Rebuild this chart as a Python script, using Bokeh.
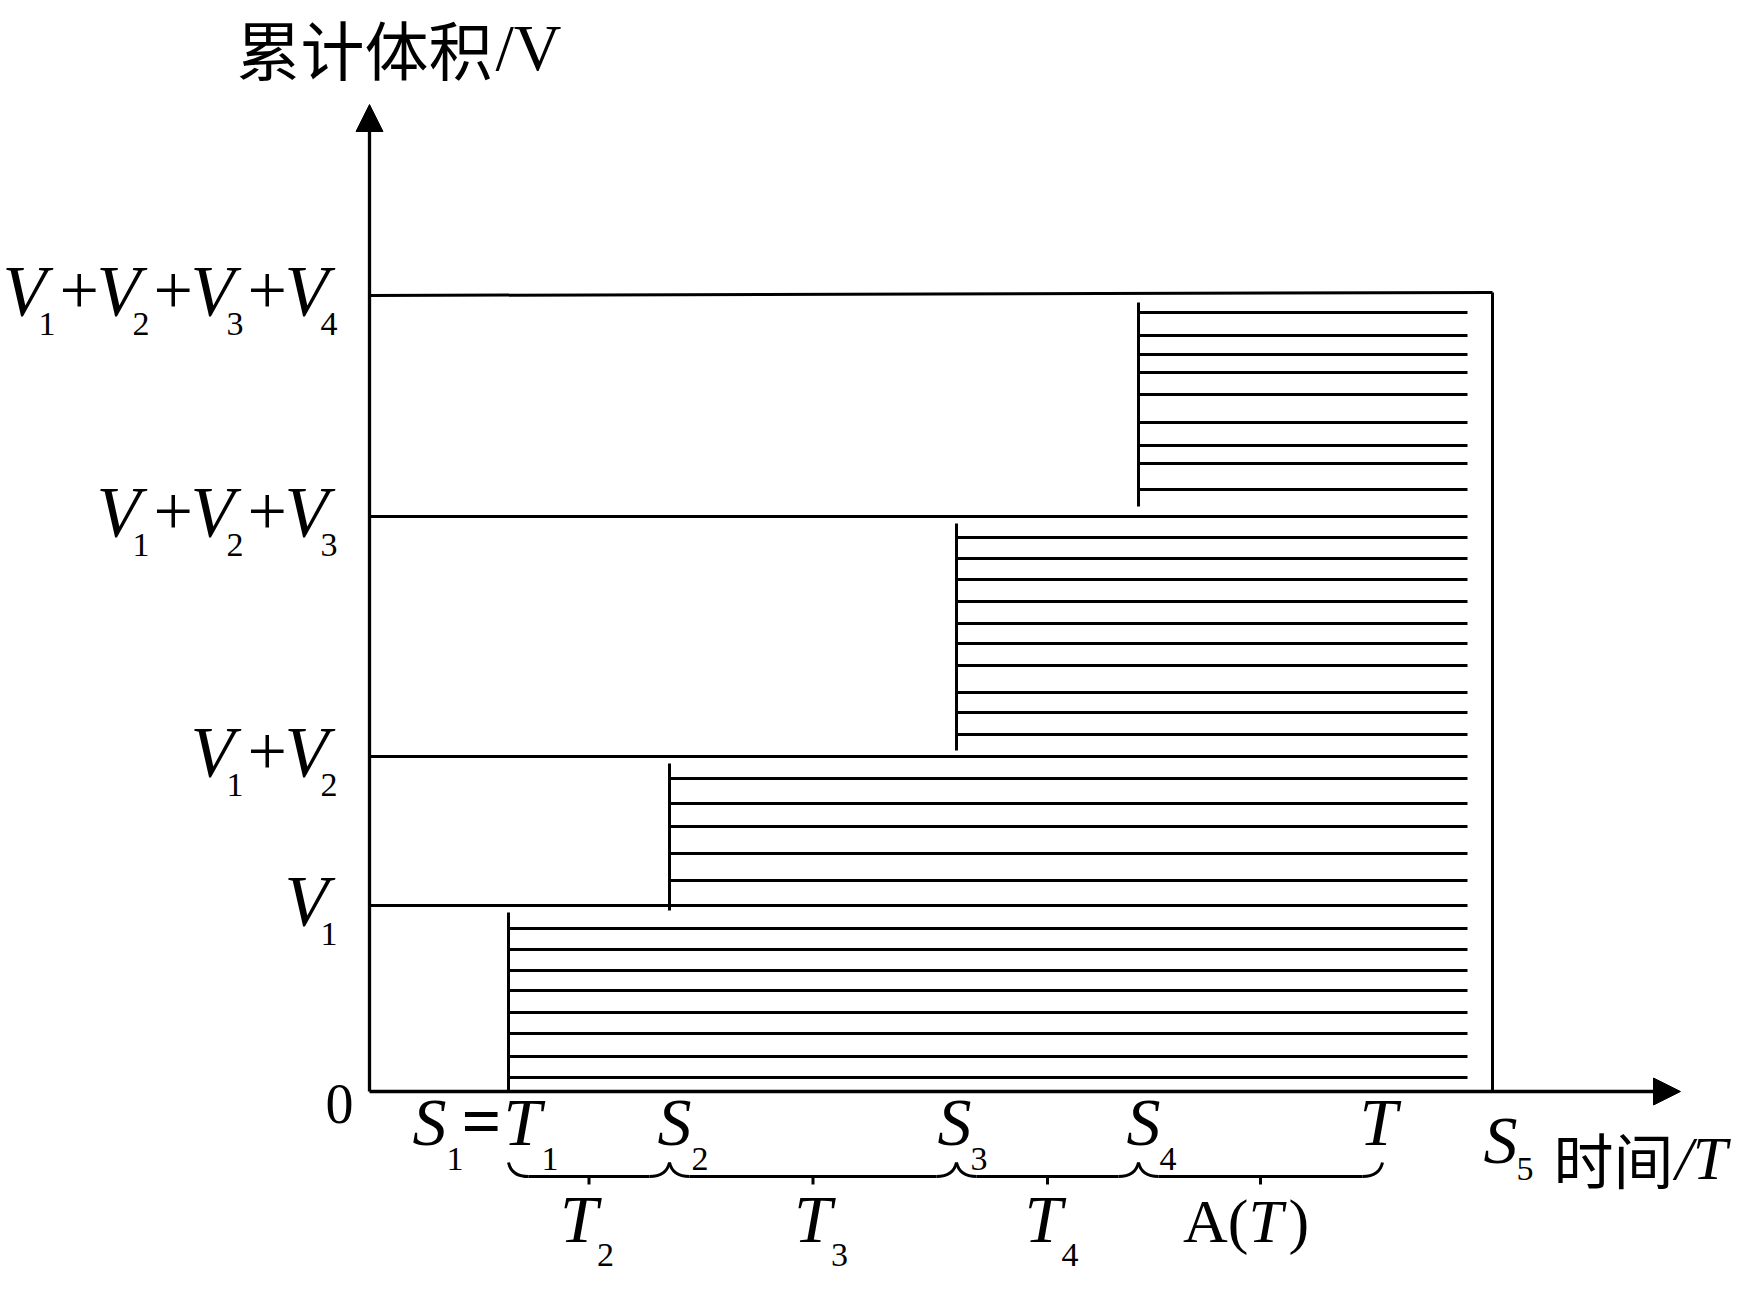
import numpy as np
from bokeh.plotting import figure
from bokeh.models import Range1d, Arrow, NormalHead
from bokeh.core.properties import value
from bokeh.embed import file_html
from bokeh.resources import INLINE

# ---------------- data (arbitrary time / volume units) ----------------
volumes = [18.6, 14.9, 24.0, 22.1]            # V1..V4
cum_volume = list(np.cumsum(volumes))          # V1, V1+V2, V1+V2+V3, V1+..+V4
starts = [13.9, 30.0, 58.7, 76.9, 112.3]       # S1..S5
t_end = 101.3                                  # T
hatch_region1 = [16.3, 14.2, 12.1, 10.1, 7.9, 5.8, 3.5, 1.4]
hatch_region2 = [31.3, 28.8, 26.5, 23.8, 21.1]
hatch_region3 = [55.4, 53.3, 51.2, 49.0, 46.8, 44.8, 42.6, 39.9, 37.9, 35.7]
hatch_region4 = [77.9, 75.6, 73.7, 71.9, 69.7, 66.9, 64.6, 62.8, 60.2]
hatch_right = 109.8
x_axis_end = 131.1
y_axis_end = 98.7
y_title = "累计体积"
x_title = "时间"
brace_labels = [("T", "2"), ("T", "3"), ("T", "4"), ("A(T)", None)]

SERIF = "Liberation Serif"
CJK = "Noto Sans CJK SC"
LW = 3.0

p = figure(width=1732, height=1274, x_range=Range1d(-36.9, 136.3),
           y_range=Range1d(-18.3, 109.1), output_backend="svg",
           toolbar_location=None, min_border=0, x_axis_type=None,
           y_axis_type=None)
p.grid.visible = False
p.outline_line_color = None
p.background_fill_color = "white"
p.border_fill_color = "white"

# ---------------- axes with arrows ----------------
p.add_layout(Arrow(end=NormalHead(size=27, fill_color="black", line_color="black"),
                   x_start=0, y_start=0, x_end=x_axis_end, y_end=0,
                   line_width=3.3, line_color="black"))
p.add_layout(Arrow(end=NormalHead(size=27, fill_color="black", line_color="black"),
                   x_start=0, y_start=0, x_end=0, y_end=y_axis_end,
                   line_width=3.3, line_color="black"))

# ---------------- level lines ----------------
p.segment(x0=[0, 0, 0], y0=cum_volume[:3], x1=[hatch_right] * 3, y1=cum_volume[:3],
          line_width=LW, line_color="black")
p.segment(x0=[0], y0=[cum_volume[3]], x1=[starts[4]], y1=[cum_volume[3] + 0.3],
          line_width=LW, line_color="black")
p.segment(x0=[starts[4]], y0=[0], x1=[starts[4]], y1=[cum_volume[3] + 0.3],
          line_width=LW, line_color="black")

# ---------------- vertical start lines and hatching ----------------
lower = [0] + cum_volume[:3]
p.segment(x0=starts[:4], y0=[lower[0], lower[1] - 0.5, lower[2] + 0.6, lower[3] + 1.0],
          x1=starts[:4], y1=[c - 0.7 for c in cum_volume],
          line_width=LW, line_color="black")
hx0, hy = [], []
for s, region in zip(starts[:4], [hatch_region1, hatch_region2, hatch_region3, hatch_region4]):
    for yv in region:
        hx0.append(s)
        hy.append(yv)
p.segment(x0=hx0, y0=hy, x1=[hatch_right] * len(hy), y1=hy,
          line_width=LW, line_color="black")


def txt(x, y, text, dx, dy, size, style="normal", font=SERIF, align="left"):
    corr = 0.38 if font == CJK else 0.36
    p.text(x=[x], y=[y], text=[text], x_offset=dx, y_offset=dy - corr * size,
           text_font=value(font), text_font_size=f"{size}px",
           text_font_style=style, text_align=align,
           text_baseline="alphabetic", text_color="black")


# ---------------- y labels ----------------
for n, level in enumerate(cum_volume, start=1):
    width = (n - 1) * 94 + 51
    for k in range(n):
        rel = -32 - width + k * 94
        txt(0, level, "V", rel - 2, 21, 72, "italic")
        txt(0, level, str(k + 1), rel + 34, 41, 34)
        if k < n - 1:
            txt(0, level, "+", rel + 55, 21, 70)

txt(0, 0, "0", -30, 33, 56, align="center")

# ---------------- x labels ----------------
s_dx = [-96, -12, -19, -12, -9]
sub_dx = [-62, 22, 14, 21, 24]
s_dy = [55, 55, 55, 55, 73]
sub_dy = [80, 80, 80, 80, 90]
for i, s in enumerate(starts):
    txt(s, 0, "S", s_dx[i], s_dy[i], 68, "italic")
    txt(s, 0, str(i + 1), sub_dx[i], sub_dy[i], 34)
txt(starts[0], 0, "=", -47, 55, 70, "bold")
txt(starts[0], 0, "T", -5, 55, 68, "italic")
txt(starts[0], 0, "1", 33, 80, 34)
txt(t_end, 0, "T", -23, 55, 68, "italic")

# ---------------- braces ----------------
ends = [starts[0], starts[1], starts[2], starts[3], t_end]
by, tip, stem = -8.5, -7.1, -9.3
for a, b in zip(ends[:-1], ends[1:]):
    mid = (a + b) / 2
    p.quadratic(x0=[a, b], y0=[tip, tip], x1=[a + 2.0, b - 2.0], y1=[by, by],
                cx=[a + 0.3, b - 0.3], cy=[by, by], line_width=LW, line_color="black")
    p.segment(x0=[a + 2.0, mid], y0=[by, by], x1=[b - 2.0, mid], y1=[by, stem],
              line_width=LW, line_color="black")

mids = [(a + b) / 2 for a, b in zip(ends[:-1], ends[1:])]
t_dx = [-29, -19, -23]
t_sub_dx = [8, 18, 14]
for m, (lab, sub), tdx, sdx in zip(mids[:3], brace_labels[:3], t_dx, t_sub_dx):
    txt(m, 0, lab, tdx, 152, 68, "italic")
    txt(m, 0, sub, sdx, 176, 34)
txt(mids[3], 0, "A(", -12, 152, 62, align="right")
txt(mids[3], 0, "T", -12, 152, 62, "italic")
txt(mids[3], 0, ")", 28, 152, 62)

# ---------------- axis titles ----------------
txt(0, y_axis_end, y_title, -133, -33, 64, font=CJK)
txt(0, y_axis_end, "/V", 126, -33, 66)
txt(x_axis_end, 0, x_title, -127, 89, 60, font=CJK)
txt(x_axis_end, 0, "/T", -5, 89, 62, "italic")

open("out.html", "w").write(file_html(p, INLINE))
